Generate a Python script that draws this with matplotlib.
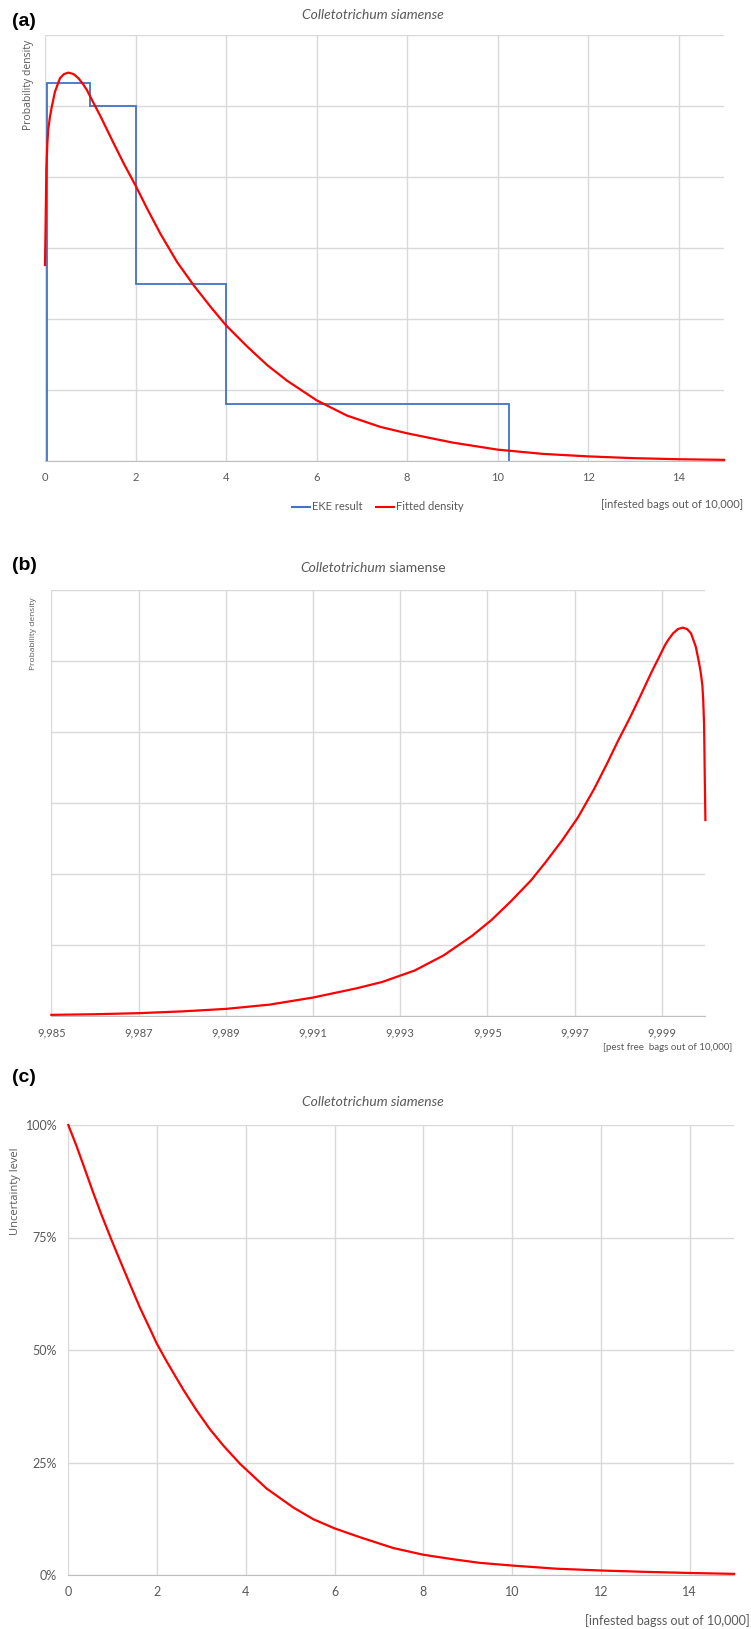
import matplotlib
matplotlib.use("Agg")
import matplotlib.pyplot as plt
from matplotlib.lines import Line2D

# figure size in pixels
W, H = 751, 1629

# EKE result (histogram of the expert elicitation), panel (a)
eke_edges = [0.05, 1, 2, 4, 10.25]
eke_dens = [5.33, 5.0, 2.5, 0.8]

# fitted density (infested bags out of 10,000)
fit_x = [0, 0.015, 0.03, 0.05, 0.07, 0.11, 0.15, 0.22, 0.33, 0.42, 0.52, 0.63, 0.74, 0.85,
         0.93, 1.05, 1.23, 1.52, 1.74, 2.0, 2.26, 2.55, 2.92, 3.29, 3.66, 4.0, 4.47, 4.91,
         5.35, 6.0, 6.67, 7.41, 8.0, 9.0, 10.0, 11.0, 12.0, 13.0, 14.0, 15.0]
fit_y = [2.76, 3.39, 4.1, 4.45, 4.66, 4.85, 4.99, 5.2, 5.39, 5.45, 5.47, 5.45, 5.39, 5.3,
         5.22, 5.07, 4.85, 4.47, 4.19, 3.88, 3.55, 3.2, 2.8, 2.47, 2.17, 1.91, 1.61, 1.35,
         1.13, 0.855, 0.64, 0.48, 0.39, 0.26, 0.16, 0.1, 0.065, 0.04, 0.025, 0.016]

# uncertainty level (panel c)
unc_x = [0, 0.19, 0.38, 0.56, 0.75, 0.98, 1.16, 1.39, 1.61, 1.84, 1.99, 2.22, 2.59, 2.89,
         3.19, 3.49, 3.87, 4.47, 5.07, 5.52, 5.99, 6.57, 7.32, 8.0, 8.67, 9.27, 10.0,
         11.0, 12.0, 13.0, 14.0, 15.0]
unc_y = [1.0, 0.952, 0.90, 0.85, 0.80, 0.743, 0.70, 0.646, 0.595, 0.547, 0.515, 0.474,
         0.412, 0.366, 0.324, 0.288, 0.247, 0.192, 0.150, 0.124, 0.104, 0.084, 0.060,
         0.045, 0.035, 0.027, 0.021, 0.014, 0.010, 0.007, 0.0045, 0.0025]

ticks_inf = [0, 2, 4, 6, 8, 10, 12, 14]
ticks_free = [9985, 9987, 9989, 9991, 9993, 9995, 9997, 9999]
ticks_pct = [0, 0.25, 0.5, 0.75, 1.0]
pct_labels = ["0%", "25%", "50%", "75%", "100%"]

TXT = "#595959"
GRID = "#d9d9d9"
BLUE = "#4472c4"
RED = "#ff0000"

plt.rcParams["font.family"] = ["Lato", "DejaVu Sans"]


def box(l, t, r, b):
    return [l / W, 1 - b / H, (r - l) / W, (b - t) / H]


def style(ax, xlim, ylim, xt, yt, tsize):
    ax.set_xlim(*xlim)
    ax.set_ylim(*ylim)
    ax.set_xticks(xt)
    ax.set_yticks(yt)
    ax.grid(True, color=GRID, lw=1.0)
    ax.set_axisbelow(True)
    for s in ["top", "right", "left"]:
        ax.spines[s].set_visible(False)
    ax.spines["bottom"].set_color("#bfbfbf")
    ax.tick_params(length=0, labelsize=tsize, labelcolor=TXT, pad=8)


def ftext(x, y, s, **kw):
    fig.text(x / W, 1 - y / H, s, **kw)


fig = plt.figure(figsize=(W / 100, H / 100), dpi=100)

# ---------- (a) ----------
ax1 = fig.add_axes(box(45, 35, 724, 461))
style(ax1, (0, 15), (0, 6), ticks_inf, range(7), 8)
ax1.set_yticklabels([])
ax1.stairs(eke_dens, eke_edges, baseline=0, fill=False, color=BLUE, lw=1.3)
ax1.plot(fit_x, fit_y, color=RED, lw=1.6, clip_on=False)

ftext(12, 21, "(a)", fontsize=14, fontweight="bold", family="Liberation Sans", va="center")
ftext(373, 15, "Colletotrichum siamense", fontsize=10, style="italic", color=TXT,
      ha="center", va="center")
ftext(29, 85, "Probability density", fontsize=7.5, color=TXT, rotation=90,
      ha="center", va="center", family="Open Sans")
ftext(743, 505, "[infested bags out of 10,000]", fontsize=8, color=TXT, ha="right", va="center")
handles = [Line2D([], [], color=BLUE, lw=1.5), Line2D([], [], color=RED, lw=1.5)]
fig.legend(handles, ["EKE result", "Fitted density"], loc="center",
           bbox_to_anchor=(378 / W, 1 - 507 / H), ncol=2, frameon=False, fontsize=8,
           handlelength=1.6, handletextpad=0.2, columnspacing=1.2, labelcolor=TXT)

# ---------- (b) ----------
ax2 = fig.add_axes(box(51.4, 590, 705.4, 1016))
style(ax2, (9985, 10000), (0, 6), ticks_free, range(7), 8)
ax2.set_yticklabels([])
ax2.set_xticklabels([f"{v:,}" for v in ticks_free])
ax2.plot([10000 - v for v in fit_x], fit_y, color=RED, lw=1.6, clip_on=False)

ftext(12, 566, "(b)", fontsize=14, fontweight="bold", family="Liberation Sans", va="center")
ftext(386, 568, "Colletotrichum", fontsize=10, style="italic", color=TXT, ha="right", va="center")
ftext(386, 568, " siamense", fontsize=10, color=TXT, ha="left", va="center")
ftext(33.5, 634, "Probability density", fontsize=6, color=TXT, rotation=90,
      ha="center", va="center", family="Open Sans")
ftext(732, 1047, "[pest free  bags out of 10,000]", fontsize=7, color=TXT, ha="right", va="center")

# ---------- (c) ----------
ax3 = fig.add_axes(box(68.3, 1125, 734, 1575))
style(ax3, (0, 15), (0, 1), ticks_inf, ticks_pct, 9)
ax3.set_yticklabels(pct_labels)
ax3.plot(unc_x, unc_y, color=RED, lw=1.6, clip_on=False)

ftext(12, 1078, "(c)", fontsize=14, fontweight="bold", family="Liberation Sans", va="center")
ftext(373, 1102, "Colletotrichum siamense", fontsize=10, style="italic", color=TXT,
      ha="center", va="center")
ftext(16, 1191, "Uncertainty level", fontsize=8, color=TXT, rotation=90,
      ha="center", va="center", family="Open Sans")
ftext(750, 1621, "[infested bagss out of 10,000]", fontsize=9, color=TXT, ha="right", va="center")

fig.savefig("out.png", dpi=100)
